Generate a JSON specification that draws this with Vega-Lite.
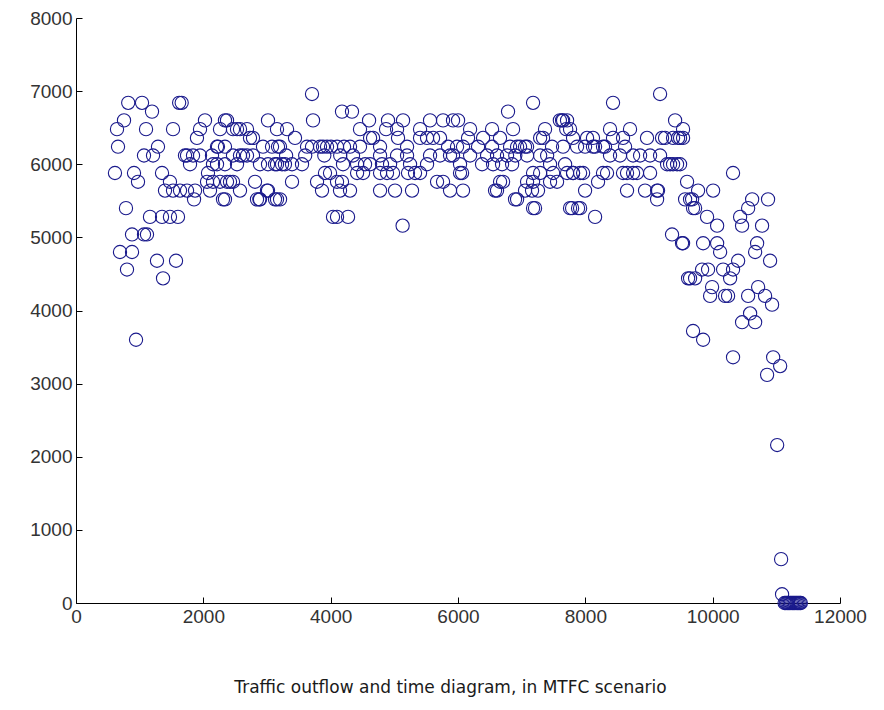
{
"$schema": "https://vega.github.io/schema/vega-lite/v6.json",
"width": 764, "height": 585,
"autosize": {"type": "none"},
"padding": {"left": 76, "top": 18, "right": 44, "bottom": 107},
"background": "white",
"config": {"view": {"stroke": null}},
"data": {"values": [
{"t":820,"q":6840},{"t":1037,"q":6840},{"t":1194,"q":6720},{"t":754,"q":6600},{"t":644,"q":6480},{"t":1100,"q":6480},{"t":1524,"q":6480},{"t":1620,"q":6840},{"t":1660,"q":6840},{"t":660,"q":6240},{"t":1288,"q":6240},{"t":1068,"q":6120},{"t":1210,"q":6120},{"t":612,"q":5880},{"t":911,"q":5880},{"t":974,"q":5760},{"t":1351,"q":5880},{"t":1476,"q":5760},{"t":1398,"q":5640},{"t":1524,"q":5640},{"t":1634,"q":5640},{"t":785,"q":5400},{"t":1162,"q":5280},{"t":1351,"q":5280},{"t":1476,"q":5280},{"t":1602,"q":5280},{"t":880,"q":5040},{"t":1068,"q":5040},{"t":1115,"q":5040},{"t":691,"q":4800},{"t":880,"q":4800},{"t":1272,"q":4680},{"t":1571,"q":4680},{"t":801,"q":4560},{"t":1367,"q":4440},{"t":943,"q":3600},
{"t":1744,"q":5640},{"t":1870,"q":5640},{"t":1948,"q":6480},{"t":2026,"q":6600},{"t":1900,"q":6360},{"t":1744,"q":6120},{"t":1838,"q":6120},{"t":1948,"q":6120},{"t":2073,"q":5880},{"t":1791,"q":6000},{"t":1712,"q":6120},
{"t":2152,"q":6000},{"t":2136,"q":6120},{"t":2230,"q":6240},{"t":2262,"q":6480},{"t":2372,"q":6600},{"t":2058,"q":5760},{"t":2152,"q":5760},{"t":2262,"q":5760},{"t":2372,"q":5760},{"t":2466,"q":5760},{"t":2105,"q":5640},{"t":1854,"q":5520},{"t":2309,"q":5520},{"t":2576,"q":5640},{"t":2466,"q":6480},{"t":2576,"q":6480},{"t":2686,"q":6480},{"t":2466,"q":6120},{"t":2576,"q":6120},{"t":2686,"q":6120},{"t":2780,"q":6360},{"t":2812,"q":5760},{"t":2843,"q":5520},{"t":2880,"q":5520},{"t":3157,"q":5520},{"t":3016,"q":6600},{"t":2937,"q":6240},{"t":3079,"q":6240},{"t":3204,"q":6240},{"t":3016,"q":6000},{"t":3157,"q":6000},{"t":3282,"q":6000},{"t":3393,"q":6000},{"t":3000,"q":5640},{"t":3157,"q":6480},{"t":3315,"q":6480},{"t":3393,"q":5760},{"t":3440,"q":6360},
{"t":3707,"q":6960},{"t":3723,"q":6600},{"t":2340,"q":6600},{"t":2529,"q":6480},{"t":2733,"q":6360},{"t":3173,"q":6240},{"t":3629,"q":6240},{"t":3833,"q":6240},{"t":3943,"q":6240},{"t":2215,"q":6240},{"t":2340,"q":6240},{"t":2623,"q":6120},{"t":2780,"q":6120},{"t":3126,"q":6000},{"t":3236,"q":6000},{"t":3550,"q":6000},{"t":2890,"q":6000},{"t":2215,"q":6000},{"t":2340,"q":6000},{"t":2529,"q":6000},{"t":2419,"q":5760},{"t":3786,"q":5760},{"t":3911,"q":5880},{"t":3016,"q":5640},{"t":2890,"q":5520},{"t":3126,"q":5520},{"t":2340,"q":5520},{"t":4037,"q":5280},
{"t":4178,"q":6720},{"t":4335,"q":6720},{"t":4603,"q":6600},{"t":4901,"q":6600},{"t":5137,"q":6600},{"t":5561,"q":6600},{"t":5765,"q":6600},{"t":5922,"q":6600},{"t":4461,"q":6480},{"t":4870,"q":6480},{"t":5043,"q":6480},{"t":5404,"q":6480},{"t":3707,"q":6240},{"t":3880,"q":6240},{"t":4006,"q":6240},{"t":4100,"q":6240},{"t":4210,"q":6240},{"t":4304,"q":6240},{"t":4461,"q":6240},{"t":4776,"q":6240},{"t":5200,"q":6240},{"t":5844,"q":6240},{"t":5985,"q":6240},{"t":4619,"q":6360},{"t":4666,"q":6360},{"t":5058,"q":6360},{"t":5404,"q":6360},{"t":5514,"q":6360},{"t":5608,"q":6360},{"t":5718,"q":6360},
{"t":3300,"q":6120},{"t":3600,"q":6120},{"t":3900,"q":6120},{"t":4150,"q":6120},{"t":4351,"q":6120},{"t":4776,"q":6120},{"t":5043,"q":6120},{"t":5200,"q":6120},{"t":5561,"q":6120},{"t":5718,"q":6120},{"t":5875,"q":6120},
{"t":4194,"q":6000},{"t":4415,"q":6000},{"t":4540,"q":6000},{"t":4619,"q":6000},{"t":4806,"q":6000},{"t":4933,"q":6000},{"t":5247,"q":6000},{"t":5514,"q":6000},
{"t":3990,"q":5880},{"t":4415,"q":5880},{"t":4509,"q":5880},{"t":4776,"q":5880},{"t":4885,"q":5880},{"t":4980,"q":5880},{"t":5215,"q":5880},{"t":5325,"q":5880},{"t":5404,"q":5880},
{"t":4100,"q":5760},{"t":4178,"q":5760},{"t":5671,"q":5760},{"t":5765,"q":5760},
{"t":3864,"q":5640},{"t":4147,"q":5640},{"t":4304,"q":5640},{"t":4776,"q":5640},{"t":5011,"q":5640},{"t":5278,"q":5640},{"t":5875,"q":5640},{"t":6079,"q":5640},
{"t":3205,"q":5520},{"t":4100,"q":5280},{"t":4273,"q":5280},{"t":5130,"q":5160},
{"t":6001,"q":6600},{"t":7635,"q":6600},{"t":7713,"q":6600},{"t":7651,"q":6600},{"t":6786,"q":6720},{"t":7179,"q":6840},{"t":6190,"q":6480},{"t":6535,"q":6480},{"t":6865,"q":6480},{"t":7367,"q":6480},{"t":7760,"q":6480},{"t":6394,"q":6360},{"t":6660,"q":6360},{"t":7290,"q":6360},{"t":7807,"q":6360},{"t":6158,"q":6360},{"t":7336,"q":6360},
{"t":6079,"q":6240},{"t":6315,"q":6240},{"t":6535,"q":6240},{"t":6928,"q":6240},{"t":7053,"q":6240},{"t":7477,"q":6240},{"t":7650,"q":6240},{"t":6818,"q":6240},{"t":6975,"q":6240},{"t":7085,"q":6240},
{"t":5922,"q":6120},{"t":6190,"q":6120},{"t":6457,"q":6120},{"t":6613,"q":6120},{"t":6770,"q":6120},{"t":7085,"q":6120},{"t":7290,"q":6120},{"t":6900,"q":6120},{"t":7400,"q":6120},
{"t":6032,"q":6000},{"t":6378,"q":6000},{"t":6551,"q":6000},{"t":6692,"q":6000},{"t":6850,"q":6000},{"t":7446,"q":6000},{"t":7682,"q":6000},
{"t":6032,"q":5880},{"t":6064,"q":5880},{"t":7179,"q":5880},{"t":7807,"q":5880},{"t":7290,"q":5880},{"t":7494,"q":5880},{"t":7713,"q":5880},
{"t":6708,"q":5760},{"t":7446,"q":5760},{"t":7556,"q":5760},{"t":6661,"q":5760},{"t":7085,"q":5760},{"t":7179,"q":5760},
{"t":6582,"q":5640},{"t":7053,"q":5640},{"t":7257,"q":5640},{"t":6613,"q":5640},{"t":7163,"q":5640},
{"t":6928,"q":5520},{"t":6896,"q":5520},{"t":7179,"q":5400},{"t":7792,"q":5400},{"t":7886,"q":5400},{"t":7210,"q":5400},
{"t":8435,"q":6840},{"t":9174,"q":6960},{"t":8388,"q":6480},{"t":8702,"q":6480},{"t":9410,"q":6600},{"t":9535,"q":6480},{"t":7600,"q":6600},{"t":7700,"q":6480},
{"t":8027,"q":6360},{"t":8120,"q":6240},{"t":8278,"q":6240},{"t":7870,"q":6240},{"t":7996,"q":6240},{"t":8153,"q":6240},
{"t":8120,"q":6360},{"t":8435,"q":6360},{"t":8592,"q":6360},{"t":8969,"q":6360},{"t":9205,"q":6360},{"t":9378,"q":6360},{"t":9535,"q":6360},{"t":9488,"q":6360},
{"t":8310,"q":6240},{"t":8624,"q":6240},
{"t":8388,"q":6120},{"t":8545,"q":6120},{"t":8750,"q":6120},{"t":8860,"q":6120},{"t":9017,"q":6120},{"t":9174,"q":6120},
{"t":9331,"q":6000},{"t":9441,"q":6000},{"t":9488,"q":6000},{"t":9284,"q":6000},{"t":9378,"q":6000},{"t":9252,"q":6360},{"t":9457,"q":6360},
{"t":7807,"q":5880},{"t":7965,"q":5880},{"t":8278,"q":5880},{"t":8592,"q":5880},{"t":8812,"q":5880},{"t":9017,"q":5880},{"t":8655,"q":5880},{"t":8750,"q":5880},{"t":7918,"q":5880},{"t":8341,"q":5880},
{"t":7996,"q":5640},{"t":8200,"q":5760},{"t":8655,"q":5640},{"t":8938,"q":5640},{"t":9127,"q":5640},{"t":9142,"q":5640},{"t":9127,"q":5520},
{"t":7760,"q":5400},{"t":7918,"q":5400},{"t":8153,"q":5280},
{"t":9598,"q":5760},{"t":9567,"q":5520},{"t":9692,"q":5400},{"t":9645,"q":5520},{"t":9362,"q":5040},{"t":9535,"q":4920},{"t":9614,"q":4440},{"t":9724,"q":4440},{"t":9692,"q":3720},
{"t":10320,"q":5880},{"t":9771,"q":5640},{"t":10007,"q":5640},{"t":9677,"q":5520},{"t":9724,"q":5400},{"t":9912,"q":5280},{"t":10070,"q":5160},{"t":10620,"q":5520},{"t":10870,"q":5520},{"t":10557,"q":5400},{"t":10431,"q":5280},{"t":10462,"q":5160},{"t":10776,"q":5160},{"t":9519,"q":4920},{"t":9850,"q":4920},{"t":10070,"q":4920},{"t":10117,"q":4800},{"t":10698,"q":4920},{"t":10667,"q":4800},{"t":10902,"q":4680},{"t":10400,"q":4680},{"t":10320,"q":4560},{"t":10164,"q":4560},{"t":10274,"q":4440},{"t":9645,"q":4440},{"t":9834,"q":4560},{"t":9928,"q":4560},{"t":9991,"q":4320},{"t":9960,"q":4200},{"t":10195,"q":4200},{"t":10242,"q":4200},{"t":10557,"q":4200},{"t":10714,"q":4320},{"t":10823,"q":4200},{"t":10933,"q":4080},{"t":10588,"q":3960},{"t":10462,"q":3840},{"t":10667,"q":3840},{"t":9850,"q":3600},{"t":10320,"q":3360},{"t":10950,"q":3360},{"t":11060,"q":3240},{"t":10855,"q":3120},{"t":11013,"q":2160},{"t":11075,"q":600},{"t":11090,"q":120},
{"t":11130,"q":0},{"t":11150,"q":0},{"t":11170,"q":0},{"t":11190,"q":0},{"t":11210,"q":0},{"t":11230,"q":0},{"t":11250,"q":0},{"t":11270,"q":0},{"t":11290,"q":0},{"t":11310,"q":0},{"t":11330,"q":0},{"t":11350,"q":0},{"t":11370,"q":0},{"t":11385,"q":0}
]},
"mark": {"type": "point", "shape": "circle", "filled": false, "size": 175, "strokeWidth": 1.1, "color": "#1a1a8c", "opacity": 1},
"encoding": {
  "x": {"field": "t", "type": "quantitative",
    "scale": {"domain": [0, 12000], "nice": false, "zero": true},
    "axis": {"values": [0, 2000, 4000, 6000, 8000, 10000, 12000], "format": "d", "grid": false,
      "tickSize": -6, "tickColor": "black", "domainColor": "black", "domainWidth": 1, "tickWidth": 1,
      "labelFont": "Liberation Sans", "labelFontSize": 19, "labelColor": "#333", "labelPadding": 10,
      "labelFlush": false, "labelOverlap": false,
      "title": "Traffic outflow and time diagram, in MTFC scenario",
      "titleFont": "DejaVu Sans", "titleFontSize": 17, "titleFontWeight": "normal", "titleColor": "#1a1a1a",
      "titleY": 84, "titleBaseline": "middle", "titleX": 374}},
  "y": {"field": "q", "type": "quantitative",
    "scale": {"domain": [0, 8000], "nice": false, "zero": true},
    "axis": {"values": [0, 1000, 2000, 3000, 4000, 5000, 6000, 7000, 8000], "format": "d", "grid": false,
      "tickSize": -6, "tickColor": "black", "domainColor": "black", "domainWidth": 1, "tickWidth": 1,
      "labelFont": "Liberation Sans", "labelFontSize": 19, "labelColor": "#333", "labelPadding": 10,
      "labelFlush": false, "labelOverlap": false, "title": null}}
}
}
